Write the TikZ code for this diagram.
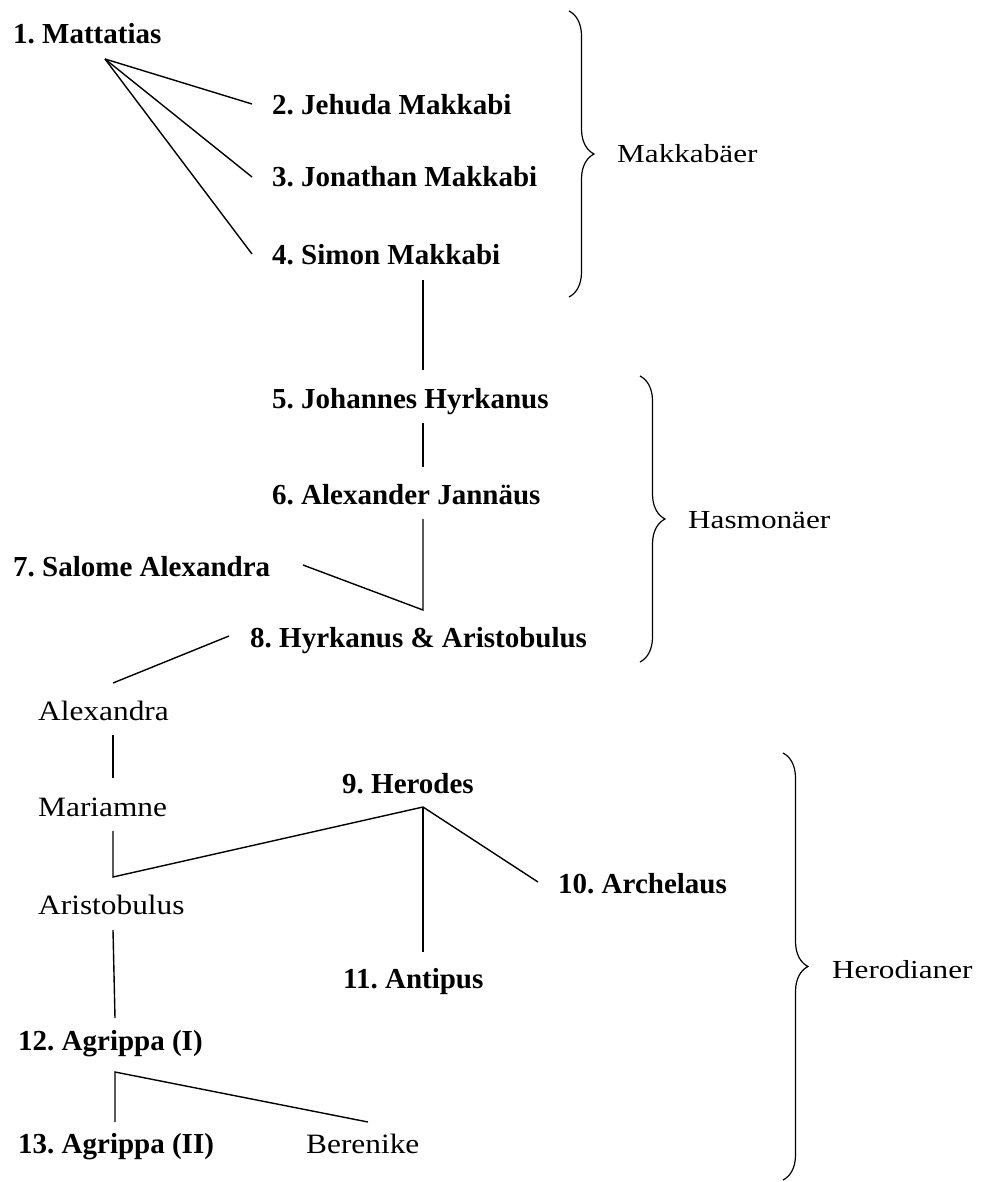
\documentclass[tikz,border=0pt]{standalone}
\usepackage{fontspec}
\setmainfont{Liberation Serif}
\newfontfamily\regfont[FakeStretch=1.12]{Liberation Serif}
\newfontfamily\grpfont[FakeStretch=1.2]{Liberation Serif}
\usetikzlibrary{decorations.pathreplacing}
\frenchspacing
\begin{document}
\begin{tikzpicture}[x=1pt,y=-1pt,
  person/.style={anchor=base west,inner sep=0pt,font=\fontsize{29}{34}\selectfont\bfseries\frenchspacing},
  relative/.style={anchor=base west,inner sep=0pt,font=\regfont\fontsize{28}{33}\selectfont},
  grouplabel/.style={anchor=base west,inner sep=0pt,font=\grpfont\fontsize{26}{31}\selectfont},
  link/.style={line width=1.4pt,line join=miter},
  groupbrace/.style={decorate,decoration={brace,amplitude=25pt},line width=1.2pt}]
\useasboundingbox (0,0) rectangle (987,1182);

% people
\node[person] (n1) at (13,44) {1. Mattatias};
\node[person] (n2) at (272,115) {2. Jehuda Makkabi};
\node[person] (n3) at (272,187) {3. Jonathan Makkabi};
\node[person] (n4) at (272,265) {4. Simon Makkabi};
\node[person] (n5) at (272,408) {5. Johannes Hyrkanus};
\node[person] (n6) at (272,504) {6. Alexander Jannäus};
\node[person] (n7) at (13,576) {7. Salome Alexandra};
\node[person] (n8) at (250,647) {8. Hyrkanus \& Aristobulus};
\node[relative] (alx) at (38,720) {Alexandra};
\node[relative] (mar) at (38,816) {Mariamne};
\node[relative] (ari) at (38,914) {Aristobulus};
\node[person] (n9) at (342,793) {9. Herodes};
\node[person] (n10) at (558,893) {10. Archelaus};
\node[person] (n11) at (343,988) {11. Antipus};
\node[person] (n12) at (18,1050) {12. Agrippa (I)};
\node[person] (n13) at (18,1153) {13. Agrippa (II)};
\node[relative] (ber) at (306,1153) {Berenike};

% group labels
\node[grouplabel] (g1) at (617,163) {Makkabäer};
\node[grouplabel] (g2) at (688,528) {Hasmonäer};
\node[grouplabel] (g3) at (832,978) {Herodianer};

% connector points
\coordinate (fan) at (105,59);
\coordinate (e2) at (252,104);
\coordinate (e3) at (252,177);
\coordinate (e4) at (252,254);
\coordinate (s4) at (423,280);
\coordinate (t5) at (423,370);
\coordinate (s5) at (423,423);
\coordinate (t6) at (423,467);
\coordinate (s6) at (423,519);
\coordinate (j8) at (423,610);
\coordinate (s7) at (303,565);
\coordinate (s8) at (229,636);
\coordinate (tAl) at (113,683);
\coordinate (sAl) at (113,735);
\coordinate (tMa) at (113,778);
\coordinate (sMa) at (113,831);
\coordinate (jAr) at (113,877);
\coordinate (h9) at (423,807);
\coordinate (t10) at (538,882);
\coordinate (t11) at (423,952);
\coordinate (sAr) at (113,930);
\coordinate (t12) at (115,1018);
\coordinate (f12) at (115,1072);
\coordinate (t13) at (115,1122);
\coordinate (tBe) at (368,1122);

% connectors
\draw[link] (fan) -- (e2);
\draw[link] (fan) -- (e3);
\draw[link] (fan) -- (e4);
\draw[link] (s4) -- (t5);
\draw[link] (s5) -- (t6);
\draw[link] (s7) -- (j8) -- (s6);
\draw[link] (s8) -- (tAl);
\draw[link] (sAl) -- (tMa);
\draw[link] (sMa) -- (jAr) -- (h9);
\draw[link] (h9) -- (t11);
\draw[link] (h9) -- (t10);
\draw[link] (sAr) -- (t12);
\draw[link] (t13) -- (f12) -- (tBe);

% braces
\coordinate (b1t) at (569,11);
\coordinate (b1b) at (569,297);
\coordinate (b2t) at (640,376);
\coordinate (b2b) at (640,662);
\coordinate (b3t) at (783,753);
\coordinate (b3b) at (783,1180);
\draw[groupbrace] (b1t) -- (b1b);
\draw[groupbrace] (b2t) -- (b2b);
\draw[groupbrace] (b3t) -- (b3b);
\end{tikzpicture}
\end{document}
